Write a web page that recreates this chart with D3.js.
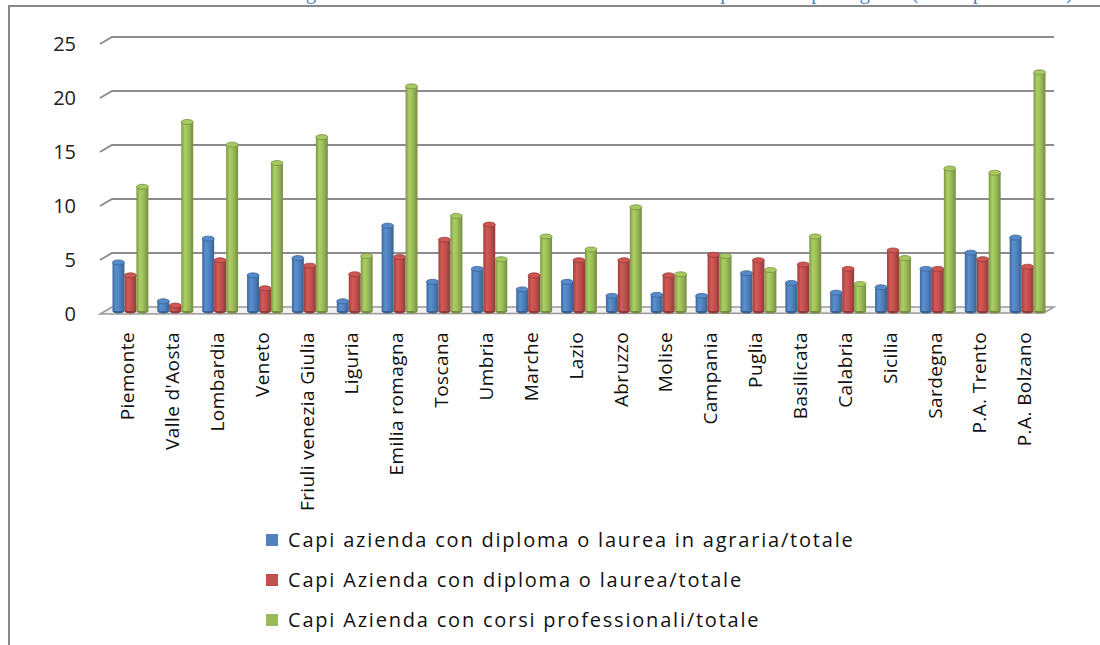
<!DOCTYPE html>
<html>
<head>
<meta charset="utf-8">
<script src="https://cdn.jsdelivr.net/npm/d3@7"></script>
<style>
  html, body { margin: 0; padding: 0; background: #fff; }
  svg { display: block; font-family: "Open Sans", sans-serif; }
</style>
</head>
<body>
<div id="chart"></div>
<script>
// regions (x axis)
const regioni = ['Piemonte', "Valle d'Aosta", 'Lombardia', 'Veneto', 'Friuli venezia Giulia', 'Liguria',
  'Emilia romagna', 'Toscana', 'Umbria', 'Marche', 'Lazio', 'Abruzzo', 'Molise', 'Campania', 'Puglia',
  'Basilicata', 'Calabria', 'Sicilia', 'Sardegna', 'P.A. Trento', 'P.A. Bolzano'];

const serie = [
  'Capi azienda con diploma o laurea in agraria/totale',
  'Capi Azienda con diploma o laurea/totale',
  'Capi Azienda con corsi professionali/totale'
];

// values
const agraria = [4.5, 0.9, 6.7, 3.3, 4.9, 0.9, 7.9, 2.7, 3.9, 2.0, 2.7, 1.4, 1.5, 1.4, 3.5, 2.6, 1.7, 2.2, 3.9, 5.4, 6.8];
const diplomaLaurea = [3.3, 0.5, 4.7, 2.1, 4.2, 3.4, 5.0, 6.6, 8.0, 3.3, 4.7, 4.7, 3.3, 5.2, 4.7, 4.3, 3.9, 5.6, 3.9, 4.8, 4.1];
const corsiProf = [11.5, 17.5, 15.4, 13.7, 16.1, 5.1, 20.8, 8.8, 4.8, 6.9, 5.7, 9.6, 3.4, 5.1, 3.8, 6.9, 2.5, 4.9, 13.2, 12.8, 22.1];

const yTicks = [0, 5, 10, 15, 20, 25];
const colori = ['#4F81BD', '#C0504D', '#9BBB59'];

const valori = [agraria, diplomaLaurea, corsiProf];

const W = 1100, H = 645;
const svg = d3.select('#chart').append('svg')
  .attr('width', W).attr('height', H);

// 3d-ish depth offsets
const dx = 12, dy = 7;

const x = d3.scaleBand().domain(regioni).range([108, 1050]).paddingInner(0.2).paddingOuter(0.1);
const xs = d3.scaleBand().domain(d3.range(serie.length)).range([0, x.bandwidth()]);
const y = d3.scaleLinear().domain([0, 25]).range([311, 41]);
const gridY = v => y(v) - 4; // back wall
const backLeft = 112, backRight = 1054;

// title of the page, mostly above the picture (only the descenders show)
svg.append('text')
  .attr('x', 1073).attr('y', -1)
  .attr('text-anchor', 'end')
  .attr('fill', '#4F81BD')
  .attr('font-family', '"Liberation Serif", serif')
  .attr('font-size', 21)
  .text('Figura 4 – Livello di istruzione e formazione dei capi azienda per regione (valori percentuali)');

// frame
svg.append('path')
  .attr('d', `M9,${H} L9,6 L${W},6`)
  .attr('fill', 'none').attr('stroke', '#888').attr('stroke-width', 2);

// floor
const f0 = gridY(0);
svg.append('path')
  .attr('d', `M${backLeft - dx},${f0 + dy} L${backRight - dx + 2},${f0 + dy - 1} L${backRight},${f0} L${backLeft},${f0} Z`)
  .attr('fill', '#f2f2f2').attr('stroke', '#999').attr('stroke-width', 1.5);

// gridlines with slanted left part
const grid = svg.append('g');
yTicks.filter(t => t > 0).forEach(t => {
  const gy = gridY(t);
  grid.append('path')
    .attr('d', `M${backLeft - dx},${gy + dy} L${backLeft},${gy} L${backRight},${gy}`)
    .attr('fill', 'none').attr('stroke', '#8c8c8c').attr('stroke-width', 2);
});

// y labels
svg.append('g').selectAll('text').data(yTicks).join('text')
  .attr('x', 76)
  .attr('y', d => gridY(d) + dy)
  .attr('dy', '0.35em')
  .attr('text-anchor', 'end')
  .attr('font-size', 20)
  .attr('fill', '#222')
  .text(d => d);

// gradients for cylinder look
const defs = svg.append('defs');
colori.forEach((c, i) => {
  const base = d3.color(c);
  const g = defs.append('linearGradient').attr('id', 'cyl' + i)
    .attr('x1', '0%').attr('x2', '100%').attr('y1', '0%').attr('y2', '0%');
  g.append('stop').attr('offset', '0%').attr('stop-color', base.darker(0.6));
  g.append('stop').attr('offset', '30%').attr('stop-color', base.brighter(0.3));
  g.append('stop').attr('offset', '60%').attr('stop-color', base);
  g.append('stop').attr('offset', '100%').attr('stop-color', base.darker(0.8));
});

// bars
const bars = svg.append('g');
regioni.forEach((r, ri) => {
  valori.forEach((vals, si) => {
    const v = vals[ri];
    const x0 = x(r) + xs(si);
    const w = xs.bandwidth();
    const top = y(v), bot = y(0);
    const base = d3.color(colori[si]);
    bars.append('ellipse')
      .attr('cx', x0 + w / 2).attr('cy', bot)
      .attr('rx', w / 2).attr('ry', 2.5)
      .attr('fill', base.darker(0.8));
    bars.append('rect')
      .attr('x', x0).attr('y', top)
      .attr('width', w).attr('height', bot - top)
      .attr('fill', `url(#cyl${si})`);
    bars.append('ellipse')
      .attr('cx', x0 + w / 2).attr('cy', top)
      .attr('rx', w / 2).attr('ry', 2.5)
      .attr('fill', base.brighter(0.2))
      .attr('stroke', base.darker(0.7)).attr('stroke-width', 0.8);
  });
});

// category labels
svg.append('g').selectAll('text').data(regioni).join('text')
  .attr('transform', d => `translate(${x(d) + x.bandwidth() / 2 - 3},332) rotate(-90)`)
  .attr('dy', '0.35em')
  .attr('text-anchor', 'end')
  .attr('font-size', 19)
  .attr('letter-spacing', 0.4)
  .attr('fill', '#111')
  .text(d => d);

// legend
const leg = svg.append('g');
serie.forEach((s, i) => {
  const ly = 540 + i * 40;
  leg.append('rect')
    .attr('x', 266).attr('y', ly - 6).attr('width', 12).attr('height', 12)
    .attr('fill', colori[i]);
  leg.append('text')
    .attr('x', 288).attr('y', ly).attr('dy', '0.35em')
    .attr('font-size', 20)
    .attr('letter-spacing', 1.8)
    .attr('fill', '#111')
    .text(s);
});
</script>
</body>
</html>
